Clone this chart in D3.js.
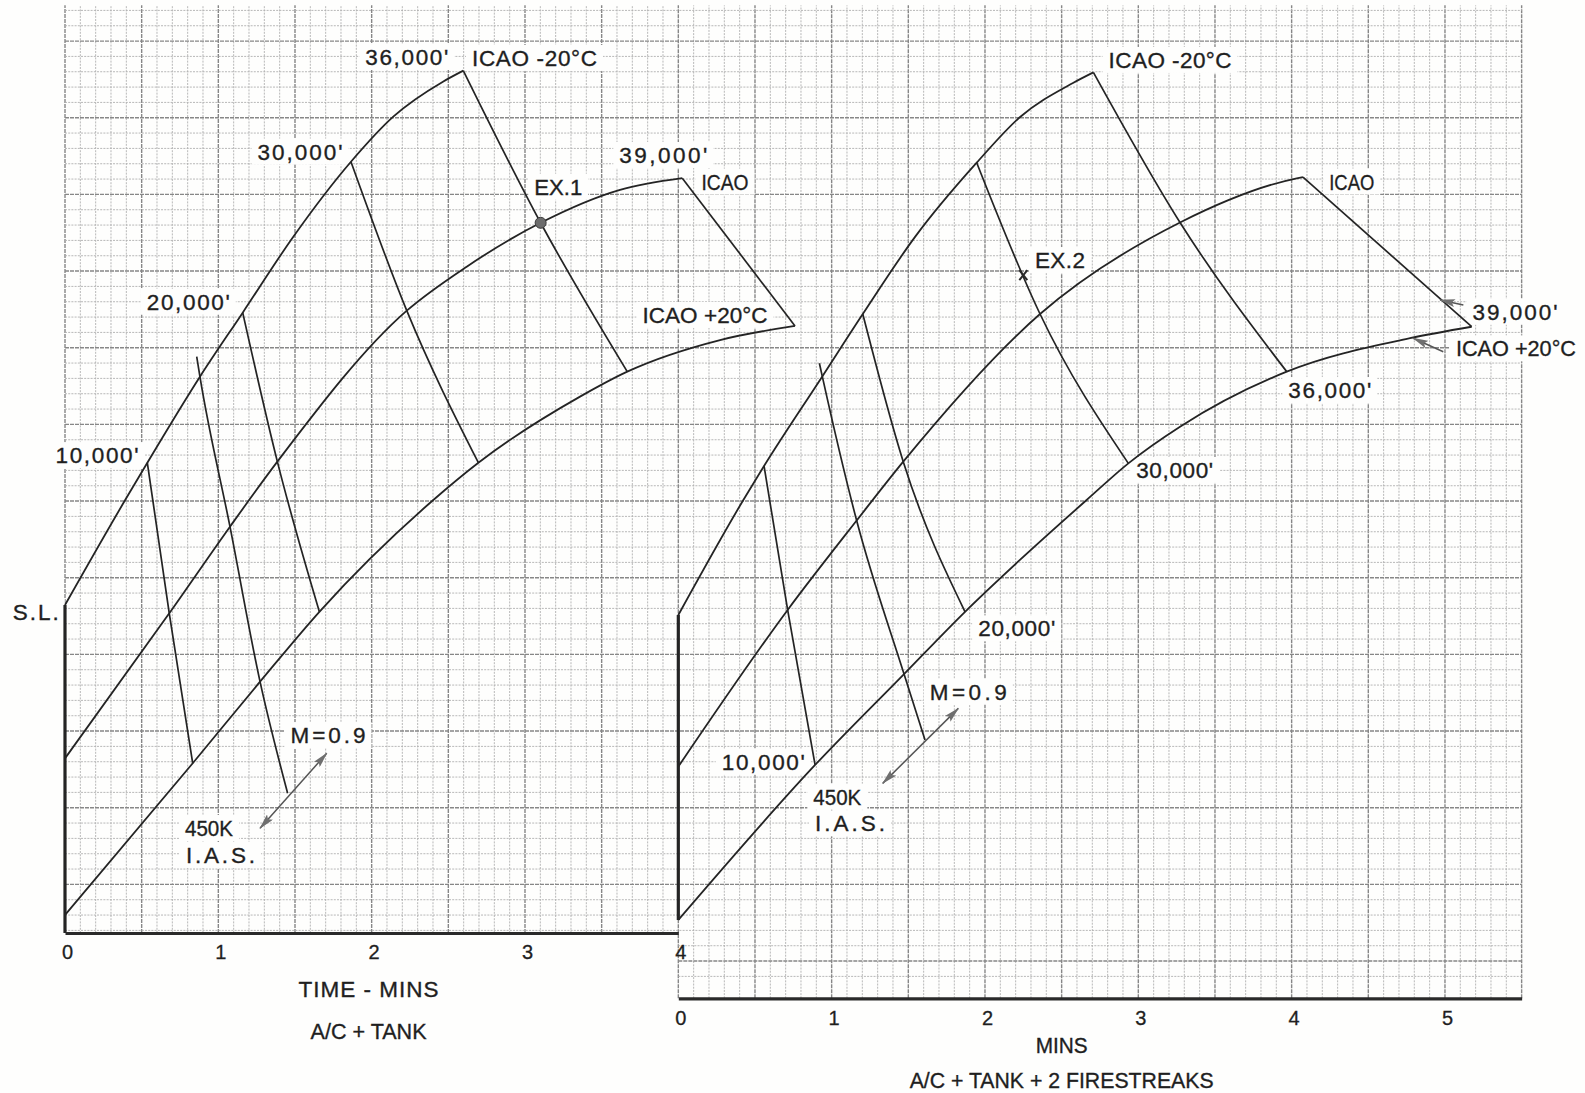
<!DOCTYPE html>
<html>
<head>
<meta charset="utf-8">
<script src="https://cdn.jsdelivr.net/npm/d3@7"></script>
<style>
  html, body { margin: 0; padding: 0; background: #fefefd; }
  svg { display: block; }
  text { font-family: "Liberation Sans", Arial, sans-serif; fill: #1f1f1f; }
</style>
</head>
<body>
<svg id="chart" width="1585" height="1093"></svg>
<script>
// ---------------------------------------------------------------------------
// Time-to-climb carpets. Each point is [time in minutes, carpet height].
// Carpet height shares the time scale (square graph paper), it has no unit.
// ---------------------------------------------------------------------------
const temperatures = ["ICAO -20°C", "ICAO", "ICAO +20°C"];
const timeTicksTank = [0, 1, 2, 3, 4];
const timeTicksFirestreak = [0, 1, 2, 3, 4, 5];

// A/C + TANK : temperature curves
const tankCold = [[0, 2.139], [0.402, 2.84], [0.537, 3.067], [0.880, 3.628], [1.159, 4.046],
                  [1.489, 4.541], [1.865, 5.030], [2.141, 5.324], [2.465, 5.552], [2.598, 5.624]];
const tankStd  = [[0, 1.139], [0.680, 2.085], [1.076, 2.650], [1.385, 3.074], [2.229, 4.059],
                  [2.620, 4.346], [3.102, 4.632], [3.620, 4.847], [4.026, 4.923]];
const tankHot  = [[0, 0.117], [0.833, 1.107], [1.272, 1.639], [1.659, 2.095], [2.402, 2.824],
                  [2.696, 3.067], [3.359, 3.498], [3.667, 3.661], [4.272, 3.867], [4.761, 3.959]];
// A/C + TANK : altitude rungs and the 450K / M=0.9 changeover
const tankSeaLevel = [[0, 2.139], [0, 0]];
const tank10k  = [[0.537, 3.067], [0.680, 2.085], [0.833, 1.107]];
const tankMach = [[0.859, 3.759], [0.880, 3.628], [1.076, 2.650], [1.272, 1.639], [1.452, 0.911]];
const tank20k  = [[1.159, 4.046], [1.385, 3.074], [1.659, 2.095]];
const tank30k  = [[1.865, 5.030], [2.229, 4.059], [2.696, 3.067]];
const tank36k  = [[2.598, 5.624], [3.102, 4.632], [3.667, 3.661]];
const tank39k  = [[4.026, 4.923], [4.761, 3.959]];
const exampleOne = [3.102, 4.632];

// A/C + TANK + 2 FIRESTREAKS : temperature curves
const fireCold = [[0, 2.074], [0.424, 2.824], [0.559, 3.046], [0.939, 3.630], [1.203, 4.037],
                  [1.544, 4.540], [1.946, 5.024], [2.229, 5.322], [2.574, 5.544], [2.707, 5.613]];
const fireStd  = [[0, 1.085], [0.713, 2.107], [1.163, 2.690], [1.467, 3.074], [2.359, 4.037],
                  [3.272, 4.634], [4.033, 4.922], [4.074, 4.930]];
const fireHot  = [[0, 0.085], [0.892, 1.096], [1.472, 1.689], [1.870, 2.095], [2.228, 2.433],
                  [2.663, 2.824], [2.935, 3.063], [3.272, 3.302], [3.968, 3.661], [4.772, 3.879],
                  [5.174, 3.954]];
// A/C + TANK + 2 FIRESTREAKS : altitude rungs and changeover
const fireSeaLevel = [[0, 2.074], [0, 0.085]];
const fire10k  = [[0.559, 3.046], [0.713, 2.107], [0.892, 1.096]];
const fireMach = [[0.920, 3.716], [0.939, 3.630], [1.163, 2.690], [1.472, 1.689], [1.609, 1.259]];
const fire20k  = [[1.203, 4.037], [1.467, 3.074], [1.870, 2.095]];
const fire30k  = [[1.946, 5.024], [2.359, 4.037], [2.935, 3.063]];
const fire36k  = [[2.707, 5.613], [3.272, 4.634], [3.968, 3.661]];
const fire39k  = [[4.074, 4.930], [5.174, 3.954]];
const exampleTwo = [2.250, 4.290];

// ---------------------------------------------------------------------------
// Layout
// ---------------------------------------------------------------------------
const UNIT = 153.33;                 // pixels per minute (and per carpet unit)
const X0 = 65, Y0 = 933;             // origin of the A/C + TANK plot
const xTank = d3.scaleLinear().domain([0, 4]).range([X0, X0 + 4 * UNIT]);
const xFire = d3.scaleLinear().domain([0, 5.5]).range([X0 + 4 * UNIT, X0 + 9.5 * UNIT]);
const xPaper = d3.scaleLinear().domain([0, 9.5]).range([X0, X0 + 9.5 * UNIT]);
const y = d3.scaleLinear().domain([0, 6]).range([Y0, Y0 - 6 * UNIT]);
const FIRE_AXIS_H = -0.426;          // second time axis sits below the first
const PAPER_TOP_H = 6.05;
const LABEL_SIZE = 22.5;

// Label layout: [text, t, h, rendered width]
const tankLabels = [
  ["36,000'", 2.229, 5.713, 83], ["ICAO -20°C", 3.062, 5.707, 125],
  ["30,000'", 1.533, 5.096, 85], ["39,000'", 3.902, 5.074, 88],
  ["EX.1", 3.217, 4.867, 48], ["ICAO", 4.304, 4.900, 47],
  ["20,000'", 0.804, 4.117, 83], ["ICAO +20°C", 4.174, 4.031, 125],
  ["10,000'", 0.209, 3.117, 83], ["S.L.", -0.191, 2.094, 46],
  ["M=0.9", 1.715, 1.291, 75], ["450K", 0.939, 0.685, 48], ["I.A.S.", 1.014, 0.509, 69]
];
const fireLabels = [
  ["ICAO -20°C", 3.207, 5.694, 123], ["ICAO", 4.392, 4.900, 45],
  ["EX.2", 2.489, 4.389, 50], ["39,000'", 5.457, 4.052, 85],
  ["ICAO +20°C", 5.463, 3.813, 120], ["36,000'", 4.249, 3.541, 83],
  ["30,000'", 3.237, 3.020, 77], ["20,000'", 2.207, 1.987, 77],
  ["M=0.9", 1.891, 1.574, 77], ["10,000'", 0.554, 1.117, 83],
  ["450K", 1.037, 0.889, 48], ["I.A.S.", 1.120, 0.715, 70]
];
// Arrow layout: [from, to, double-headed?]
const tankArrows = [[[1.272, 0.683], [1.707, 1.172], true]];
const fireArrows = [
  [[1.333, 0.976], [1.826, 1.465], true],
  [[5.120, 4.096], [4.968, 4.128], false],
  [[4.989, 3.791], [4.793, 3.879], false]
];

const svg = d3.select("#chart");
const defs = svg.append("defs");
defs.append("marker")
  .attr("id", "head")
  .attr("viewBox", "0 0 16 8")
  .attr("refX", 15).attr("refY", 4)
  .attr("markerWidth", 16).attr("markerHeight", 8)
  .attr("markerUnits", "userSpaceOnUse")
  .attr("orient", "auto-start-reverse")
  .append("path")
  .attr("d", "M0,0 L16,4 L0,8 L3,4 Z")
  .attr("fill", "#6f6f6f");

// ---------------------------------------------------------------------------
// Graph paper
// ---------------------------------------------------------------------------
const paper = svg.append("g").attr("class", "paper");
const cols = d3.range(0, 96).map(i => i / 10);
const rows = d3.range(-4, 60).map(k => +(0.117 + k / 10).toFixed(3));
const MAJOR = "#878787", MINOR = "#b0b0b0";

paper.selectAll("line.col").data(cols).join("line")
  .attr("class", "col")
  .attr("x1", d => xPaper(d)).attr("x2", d => xPaper(d))
  .attr("y1", d => d >= 4 ? y(FIRE_AXIS_H) : y(0))
  .attr("y2", y(PAPER_TOP_H))
  .attr("stroke", (d, i) => i % 5 === 0 ? MAJOR : MINOR)
  .attr("stroke-width", (d, i) => i % 5 === 0 ? 1.4 : 0.9)
  .attr("stroke-dasharray", (d, i) => i % 5 === 0 ? "4 1" : "2 1.2");

paper.selectAll("line.row").data(rows).join("line")
  .attr("class", "row")
  .attr("x1", d => d < 0 ? xPaper(4) : xPaper(0))
  .attr("x2", xPaper(9.5))
  .attr("y1", d => y(d)).attr("y2", d => y(d))
  .attr("stroke", (d, i) => (i + 4) % 5 === 0 ? MAJOR : MINOR)
  .attr("stroke-width", (d, i) => (i + 4) % 5 === 0 ? 1.4 : 0.9)
  .attr("stroke-dasharray", (d, i) => (i + 4) % 5 === 0 ? "4 1" : "2 1.2");

// ---------------------------------------------------------------------------
// Helpers
// ---------------------------------------------------------------------------
function line(xs) {
  return d3.line().x(d => xs(d[0])).y(d => y(d[1])).curve(d3.curveMonotoneX);
}

// Stretch a label to its width by widening the letter spacing, or squeeze
// the glyphs when the natural text is already wider than that.
function fitText(sel, widthOf) {
  sel.each(function (d) {
    const natural = this.getComputedTextLength();
    const w = widthOf(d);
    d3.select(this)
      .attr("textLength", w)
      .attr("lengthAdjust", natural > w ? "spacingAndGlyphs" : "spacing");
  });
}

function knockouts(g, xs, labels) {
  g.selectAll("rect.ko").data(labels).join("rect")
    .attr("class", "ko")
    .attr("x", d => xs(d[1]) - d[3] / 2 - 6)
    .attr("y", d => y(d[2]) - 13)
    .attr("width", d => d[3] + 12)
    .attr("height", 26)
    .attr("fill", "#fefefd");
}

function texts(g, xs, labels) {
  g.selectAll("text.lbl").data(labels).join("text")
    .attr("class", "lbl")
    .attr("x", d => xs(d[1]))
    .attr("y", d => y(d[2]))
    .attr("dy", "0.36em")
    .attr("text-anchor", "middle")
    .attr("font-size", LABEL_SIZE)
    .attr("stroke", "#1f1f1f").attr("stroke-width", 0.35)
    .text(d => d[0])
    .call(fitText, d => d[3]);
}

function drawPanel(xs, curves, rungs, edge, labels, arrows) {
  const g = svg.append("g");
  knockouts(g.append("g"), xs, labels);

  const gl = g.append("g").attr("fill", "none").attr("stroke", "#242424");
  gl.selectAll("path.curve").data(curves).join("path")
    .attr("class", "curve")
    .attr("d", d => line(xs)(d))
    .attr("stroke-width", 1.8);
  gl.selectAll("path.rung").data(rungs).join("path")
    .attr("class", "rung")
    .attr("d", d => line(xs)(d))
    .attr("stroke-width", 1.7);
  gl.append("path")
    .attr("d", d3.line().x(d => xs(d[0])).y(d => y(d[1]))(edge))
    .attr("stroke-width", 3.2);

  g.append("g").selectAll("line.arrow").data(arrows).join("line")
    .attr("class", "arrow")
    .attr("x1", d => xs(d[0][0])).attr("y1", d => y(d[0][1]))
    .attr("x2", d => xs(d[1][0])).attr("y2", d => y(d[1][1]))
    .attr("stroke", "#555").attr("stroke-width", 1.5)
    .attr("marker-end", "url(#head)")
    .attr("marker-start", d => d[2] ? "url(#head)" : null);

  texts(g.append("g"), xs, labels);
  return g;
}

// ---------------------------------------------------------------------------
// Panels
// ---------------------------------------------------------------------------
const tankPanel = drawPanel(xTank,
  [tankCold, tankStd, tankHot],
  [tank10k, tankMach, tank20k, tank30k, tank36k, tank39k],
  tankSeaLevel, tankLabels, tankArrows);

const firePanel = drawPanel(xFire,
  [fireCold, fireStd, fireHot],
  [fire10k, fireMach, fire20k, fire30k, fire36k, fire39k],
  fireSeaLevel, fireLabels, fireArrows);

// worked examples
tankPanel.append("circle")
  .attr("cx", xTank(exampleOne[0])).attr("cy", y(exampleOne[1]))
  .attr("r", 5.5).attr("fill", "#6c6c6c").attr("stroke", "#3a3a3a").attr("stroke-width", 1);

const ex2 = firePanel.append("g")
  .attr("transform", `translate(${xFire(exampleTwo[0])},${y(exampleTwo[1])})`)
  .attr("stroke", "#2a2a2a").attr("stroke-width", 2);
ex2.append("line").attr("x1", -4).attr("y1", -5).attr("x2", 4).attr("y2", 5);
ex2.append("line").attr("x1", 4).attr("y1", -5).attr("x2", -4).attr("y2", 5);

// ---------------------------------------------------------------------------
// Time axes
// ---------------------------------------------------------------------------
function timeAxis(xs, ticks, h) {
  const g = svg.append("g")
    .attr("transform", `translate(0,${y(h)})`)
    .call(d3.axisBottom(xs).tickValues(ticks).tickFormat(d3.format("d"))
      .tickSize(0).tickSizeOuter(0).tickPadding(12))
    .attr("font-family", "Liberation Sans, Arial, sans-serif")
    .attr("font-size", 20)
    .attr("color", "#1f1f1f");
  g.select(".domain").attr("stroke", "#2a2a2a").attr("stroke-width", 3.2);
  g.selectAll(".tick text").attr("dx", 2)
    .attr("stroke", "#1f1f1f").attr("stroke-width", 0.3);
  return g;
}
timeAxis(xTank, timeTicksTank, 0);
timeAxis(xFire, timeTicksFirestreak, FIRE_AXIS_H);

const titles = [
  [xTank(1.98), y(-0.362), "TIME - MINS", 140],
  [xTank(1.98), y(-0.636), "A/C + TANK", 116],
  [xFire(2.5), y(-0.730), "MINS", 52],
  [xFire(2.5), y(-0.958), "A/C + TANK + 2 FIRESTREAKS", 304]
];
svg.append("g").selectAll("text").data(titles).join("text")
  .attr("x", d => d[0]).attr("y", d => d[1])
  .attr("dy", "0.36em")
  .attr("text-anchor", "middle")
  .attr("font-size", LABEL_SIZE)
  .attr("stroke", "#1f1f1f").attr("stroke-width", 0.35)
  .text(d => d[2])
  .call(fitText, d => d[3]);
</script>
</body>
</html>
